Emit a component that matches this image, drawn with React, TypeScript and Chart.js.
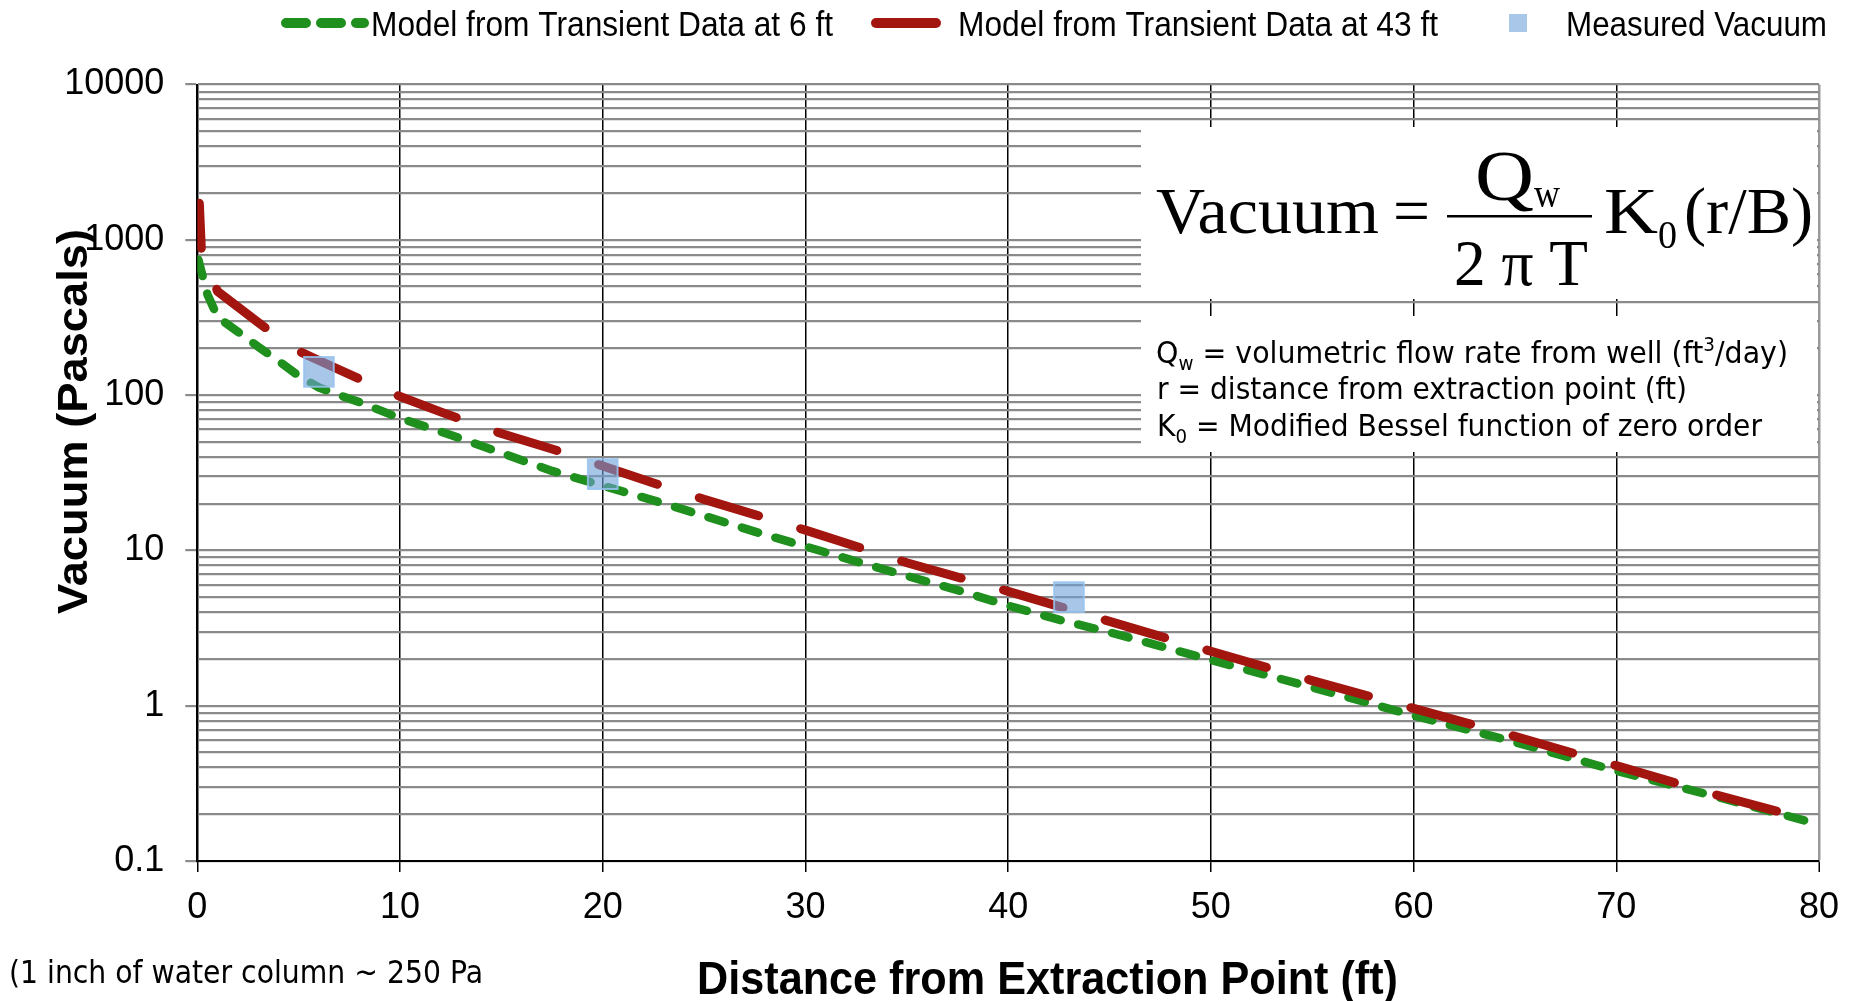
import React, { useEffect, useRef } from 'react';
import { Chart, registerables } from 'chart.js';

Chart.register(...registerables);

// Model curve fitted to transient data at 6 ft (distance ft, vacuum Pa)
const DIST_6FT = [0.05, 0.5, 1, 2, 3, 4, 5, 6, 7, 8, 10, 12.5, 15, 17.5, 20, 22.5, 25, 27.5, 30, 32.5, 35, 37.5, 40, 42.5, 45, 47.5, 50, 55, 60, 65, 70, 75, 80];
const VACUUM_6FT = [745, 445, 318, 256, 205, 166, 133, 112, 100, 90, 71, 55.3, 42.4, 32.5, 26.1, 21.0, 16.7, 13.2, 10.6, 8.5, 6.85, 5.55, 4.41, 3.58, 2.97, 2.42, 1.97, 1.31, 0.865, 0.583, 0.381, 0.258, 0.172];

// Model curve fitted to transient data at 43 ft
const DIST_43FT = [0.1, 0.2, 1, 2, 3, 4, 5, 6, 8, 10, 12, 15, 17.5, 20, 22.5, 25, 27.5, 30, 35, 40, 45, 50, 55, 60, 65, 70, 75, 80];
const VACUUM_43FT = [1720, 870, 465, 370, 294, 235, 192, 167, 127, 98, 78, 56.6, 45, 35, 27.2, 21.3, 17.0, 13.5, 8.33, 5.45, 3.49, 2.24, 1.45, 0.961, 0.635, 0.411, 0.265, 0.177];

// Field measurements
const MEASURED_DIST = [6, 20, 43];
const MEASURED_VACUUM = [141, 31, 5.0];

const SERIES_LABELS = ['Model from Transient Data at 6 ft', 'Model from Transient Data at 43 ft', 'Measured Vacuum'];

const Y_TICK_VALUES = [0.1, 1, 10, 100, 1000, 10000];
const Y_TICK_LABELS = ['0.1', '1', '10', '100', '1000', '10000'];

const X_TITLE = 'Distance from Extraction Point (ft)';
const Y_TITLE = 'Vacuum (Pascals)';
const UNIT_NOTE = '(1 inch of water column ~ 250 Pa';

const GREEN = '#1f8f1d';
const RED = '#a3150f';
const BLUE_FILL = 'rgba(110,160,215,0.6)';
const BLUE_EDGE = 'rgba(150,195,240,0.85)';

const SANS = '"Liberation Sans", Arial, sans-serif';
const SERIF = '"Liberation Serif", "Times New Roman", serif';
const NOTE_FONT = '"DejaVu Sans", Verdana, sans-serif';

const toPoints = (xs: number[], ys: number[]) => xs.map((x, i) => ({ x, y: ys[i] }));

// log grid: 1..9 x 10^e across the decades of the axis
const logGrid = (minExp: number, maxExp: number) => {
  const out: number[] = [];
  for (let e = minExp; e < maxExp; e++) {
    for (let m = 1; m <= 9; m++) out.push(Number((m * Math.pow(10, e)).toPrecision(3)));
  }
  out.push(Math.pow(10, maxExp));
  return out;
};

const isMajor = (v: number) => Y_TICK_VALUES.some((t) => Math.abs(t - v) / t < 1e-6);

function fitText(ctx: CanvasRenderingContext2D, text: string, x: number, y: number, font: string, width: number) {
  ctx.save();
  ctx.font = font;
  const w = ctx.measureText(text).width;
  ctx.translate(x, y);
  ctx.scale(width / w, 1);
  ctx.fillStyle = '#000';
  ctx.textAlign = 'left';
  ctx.textBaseline = 'alphabetic';
  ctx.fillText(text, 0, 0);
  ctx.restore();
}

type Run = { text: string; font: string; dy?: number };

function fitRuns(ctx: CanvasRenderingContext2D, runs: Run[], x: number, y: number, width: number) {
  ctx.save();
  let total = 0;
  const widths = runs.map((r) => {
    ctx.font = r.font;
    const w = ctx.measureText(r.text).width;
    total += w;
    return w;
  });
  ctx.translate(x, y);
  ctx.scale(width / total, 1);
  ctx.fillStyle = '#000';
  ctx.textAlign = 'left';
  ctx.textBaseline = 'alphabetic';
  let cx = 0;
  runs.forEach((r, i) => {
    ctx.font = r.font;
    ctx.fillText(r.text, cx, r.dy || 0);
    cx += widths[i];
  });
  ctx.restore();
}

const overlayPlugin = {
  id: 'overlay',
  beforeDraw(chart: any) {
    const { ctx, width, height } = chart;
    ctx.save();
    ctx.fillStyle = '#fff';
    ctx.fillRect(0, 0, width, height);
    ctx.restore();
  },
  beforeDatasetsDraw(chart: any) {
    const ctx: CanvasRenderingContext2D = chart.ctx;
    ctx.save();
    ctx.fillStyle = '#fff';
    ctx.fillRect(1141, 127, 676, 172);
    ctx.fillRect(1141, 316, 676, 136);
    ctx.restore();
  },
  afterDraw(chart: any) {
    const ctx: CanvasRenderingContext2D = chart.ctx;
    const ds = chart.data.datasets;

    // legend
    ctx.save();
    ctx.lineCap = 'round';
    ctx.lineWidth = 10;
    ctx.strokeStyle = ds[0].borderColor;
    ctx.setLineDash([20, 15]);
    ctx.beginPath();
    ctx.moveTo(286, 23);
    ctx.lineTo(364, 23);
    ctx.stroke();
    ctx.setLineDash([]);
    ctx.strokeStyle = ds[1].borderColor;
    ctx.beginPath();
    ctx.moveTo(876, 23);
    ctx.lineTo(936, 23);
    ctx.stroke();
    ctx.fillStyle = 'rgba(140,180,225,0.75)';
    ctx.fillRect(1509, 14, 18, 18);
    ctx.restore();
    fitText(ctx, ds[0].label, 371, 36, `35px ${SANS}`, 462);
    fitText(ctx, ds[1].label, 958, 36, `35px ${SANS}`, 480);
    fitText(ctx, ds[2].label, 1566, 36, `35px ${SANS}`, 261);

    // axis titles
    fitText(ctx, X_TITLE, 697, 994, `bold 46px ${SANS}`, 701);
    ctx.save();
    ctx.translate(87, 614);
    ctx.rotate(-Math.PI / 2);
    fitText(ctx, Y_TITLE, 0, 0, `bold 43px ${SANS}`, 385);
    ctx.restore();

    fitText(ctx, UNIT_NOTE, 9, 983, `32px ${NOTE_FONT}`, 474);

    // equation
    const big = `66px ${SERIF}`;
    fitText(ctx, 'Vacuum', 1156, 233, big, 223);
    fitText(ctx, '=', 1393, 233, big, 37);
    ctx.save();
    ctx.fillStyle = '#000';
    ctx.fillRect(1447, 215, 145, 2.5);
    ctx.restore();
    fitText(ctx, 'Q', 1475, 200, `72px ${SERIF}`, 59);
    fitText(ctx, 'w', 1534, 207, `42px ${SERIF}`, 26);
    fitText(ctx, '2 \u03C0 T', 1454, 285, big, 134);
    fitText(ctx, 'K', 1604, 233, big, 54);
    fitText(ctx, '0', 1658, 248, `40px ${SERIF}`, 19);
    fitText(ctx, '(r/B)', 1684, 233, big, 129);

    // symbol definitions
    const main = `31px ${NOTE_FONT}`;
    const small = `20px ${NOTE_FONT}`;
    fitRuns(ctx, [
      { text: 'Q', font: main },
      { text: 'w', font: small, dy: 7 },
      { text: ' = volumetric flow rate from well (ft', font: main },
      { text: '3', font: small, dy: -12 },
      { text: '/day)', font: main },
    ], 1156, 363, 632);
    fitRuns(ctx, [{ text: 'r = distance from extraction point (ft)', font: main }], 1157, 399, 530);
    fitRuns(ctx, [
      { text: 'K', font: main },
      { text: '0', font: small, dy: 7 },
      { text: ' = Modified Bessel function of zero order', font: main },
    ], 1157, 436, 605);
  },
};

export default function App() {
  const canvasRef = useRef<HTMLCanvasElement>(null);

  useEffect(() => {
    const canvas = canvasRef.current;
    if (!canvas) return;
    const yGrid = logGrid(-1, 4);

    const chart = new Chart(canvas, {
      type: 'line',
      data: {
        datasets: [
          {
            label: SERIES_LABELS[0],
            data: toPoints(DIST_6FT, VACUUM_6FT),
            borderColor: GREEN,
            backgroundColor: GREEN,
            borderWidth: 8.5,
            borderDash: [17, 18],
            borderCapStyle: 'round',
            borderJoinStyle: 'round',
            pointRadius: 0,
            tension: 0,
            fill: false,
            order: 2,
          },
          {
            label: SERIES_LABELS[1],
            data: toPoints(DIST_43FT, VACUUM_43FT),
            borderColor: RED,
            backgroundColor: RED,
            borderWidth: 9,
            borderDash: [62, 44],
            borderDashOffset: 17,
            borderCapStyle: 'round',
            borderJoinStyle: 'round',
            pointRadius: 0,
            tension: 0,
            fill: false,
            order: 1,
          },
          {
            label: SERIES_LABELS[2],
            data: toPoints(MEASURED_DIST, MEASURED_VACUUM),
            showLine: false,
            pointStyle: 'rect',
            pointRadius: 21,
            pointHoverRadius: 21,
            backgroundColor: BLUE_FILL,
            borderColor: BLUE_EDGE,
            borderWidth: 2,
            order: 0,
          },
        ],
      },
      options: {
        responsive: true,
        maintainAspectRatio: false,
        animation: false,
        events: [],
        layout: { padding: { left: 0, right: 39, top: 84.5, bottom: 0 } },
        plugins: {
          legend: { display: false },
          tooltip: { enabled: false },
          title: { display: false },
        },
        scales: {
          x: {
            type: 'linear',
            min: 0,
            max: 80,
            ticks: {
              stepSize: 10,
              color: '#000',
              font: { family: SANS, size: 36 },
              padding: 14,
              maxRotation: 0,
              autoSkip: false,
            },
            grid: {
              color: (c: any) => (c.tick && c.tick.value === 80 ? '#9a9a9a' : '#000'),
              lineWidth: (c: any) => (c.tick && c.tick.value === 80 ? 2.5 : 1.5),
              tickLength: 11,
              tickColor: '#000',
              tickWidth: 1.5,
            },
            border: { color: '#000', width: 2 },
            afterFit: (s: any) => {
              s.height = 140;
            },
          },
          y: {
            type: 'logarithmic',
            min: 0.1,
            max: 10000,
            afterBuildTicks: (s: any) => {
              s.ticks = yGrid.map((v) => ({ value: v, major: isMajor(v) }));
            },
            ticks: {
              autoSkip: false,
              color: '#000',
              font: { family: SANS, size: 36 },
              padding: 21,
              callback: (v: any) => {
                const i = Y_TICK_VALUES.findIndex((t) => Math.abs(t - Number(v)) / t < 1e-6);
                return i >= 0 ? Y_TICK_LABELS[i] : '';
              },
            },
            grid: {
              color: '#8a8a8a',
              lineWidth: 2.2,
              tickLength: 12,
              tickColor: (c: any) => (c.tick && isMajor(c.tick.value) ? '#8a8a8a' : 'rgba(0,0,0,0)'),
            },
            border: { color: '#000', width: 2 },
            afterFit: (s: any) => {
              s.width = 197.3;
            },
          },
        },
      },
      plugins: [overlayPlugin],
    } as any);

    return () => chart.destroy();
  }, []);

  return (
    <div style={{ position: 'fixed', left: 0, top: 0, width: 1858, height: 1001, background: '#fff' }}>
      <canvas ref={canvasRef} />
    </div>
  );
}
